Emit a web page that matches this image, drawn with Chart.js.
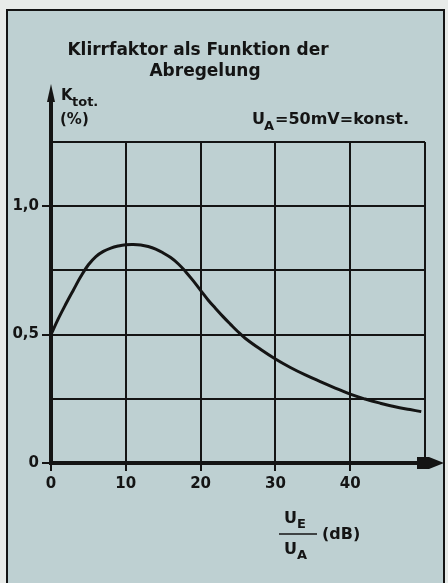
<!DOCTYPE html>
<html>
<head>
<meta charset="utf-8">
<script src="https://cdn.jsdelivr.net/npm/chart.js@4"></script>
<style>
  html, body { margin: 0; padding: 0; background: #e8ebe9; }
  canvas { display: block; }
</style>
</head>
<body>
<canvas id="klirrChart" width="448" height="583"></canvas>
<script>
// values (Klirrfaktor in %, Abregelung in dB)
const dbValues = [0, 1, 2, 3, 4, 5, 6, 7, 8, 9, 10, 11, 12, 13, 14, 15, 16, 17, 18, 19, 20, 21, 22, 23, 24, 25, 26,
    28, 30, 32, 34, 36, 38, 40, 42, 44, 46, 48, 49.5];
const kValues = [0.50, 0.563, 0.62, 0.674, 0.727, 0.772, 0.804, 0.824, 0.837, 0.845, 0.85, 0.851, 0.849, 0.843,
    0.833, 0.818, 0.80, 0.776, 0.745, 0.71, 0.672, 0.635, 0.602, 0.57, 0.54, 0.511, 0.485,
    0.443, 0.405, 0.372, 0.343, 0.317, 0.292, 0.268, 0.249, 0.233, 0.219, 0.208, 0.20];

const xTickValues = [0, 10, 20, 30, 40];
const xTickLabels = ["0", "10", "20", "30", "40"];
const yTickValues = [0, 0.5, 1.0];
const yTickLabels = ["0", "0,5", "1,0"];

const ink = "#141414";
const paper = "#bed0d2";
const fontFam = "'DejaVu Sans', sans-serif";

const decor = {
    id: "decor",
    beforeDraw(chart) {
        const c = chart.ctx;
        c.save();
        c.fillStyle = "#e8ebe9";
        c.fillRect(0, 0, chart.width, chart.height);
        c.fillStyle = paper;
        c.fillRect(7, 10, 437, 600);
        c.strokeStyle = ink;
        c.lineWidth = 2;
        c.strokeRect(7, 10, 437, 600);
        c.restore();
    },
    afterDraw(chart) {
        const c = chart.ctx;
        const a = chart.chartArea;
        const y0 = chart.scales.y.getPixelForValue(0);
        const x0 = chart.scales.x.getPixelForValue(0);
        c.save();
        c.fillStyle = ink;
        c.strokeStyle = ink;

        // y axis goes on above the grid, with arrow
        c.lineWidth = 4;
        c.beginPath();
        c.moveTo(x0, a.top);
        c.lineTo(x0, 96);
        c.stroke();
        c.beginPath();
        c.moveTo(x0, 84);
        c.lineTo(x0 - 4, 102);
        c.lineTo(x0 + 4, 102);
        c.closePath();
        c.fill();

        // x axis arrow
        c.fillRect(a.right - 8, y0 - 6, 12, 12);
        c.beginPath();
        c.moveTo(444, y0);
        c.lineTo(a.right + 4, y0 - 6);
        c.lineTo(a.right + 4, y0 + 6);
        c.closePath();
        c.fill();

        // title
        c.textAlign = "center";
        c.textBaseline = "alphabetic";
        c.font = "bold 17px " + fontFam;
        c.fillText("Klirrfaktor als Funktion der", 198, 55);
        c.fillText("Abregelung", 205, 76);

        // y axis label
        c.textAlign = "left";
        c.font = "bold 15px " + fontFam;
        c.fillText("K", 61, 100);
        c.font = "bold 13px " + fontFam;
        c.fillText("tot.", 72, 106);
        c.font = "bold 15px " + fontFam;
        c.fillText("(%)", 60, 124);

        // note
        c.font = "bold 16px " + fontFam;
        c.fillText("U", 252, 124);
        c.font = "bold 13px " + fontFam;
        c.fillText("A", 264, 130);
        c.font = "bold 16px " + fontFam;
        c.fillText("=50mV=konst.", 275, 124);

        // x axis label as fraction
        c.font = "bold 16px " + fontFam;
        c.fillText("U", 284, 523);
        c.fillText("U", 284, 554);
        c.font = "bold 13px " + fontFam;
        c.fillText("E", 297, 528);
        c.fillText("A", 297, 559);
        c.lineWidth = 1.5;
        c.beginPath();
        c.moveTo(279, 534);
        c.lineTo(317, 534);
        c.stroke();
        c.font = "bold 16px " + fontFam;
        c.fillText("(dB)", 322, 539);
        c.restore();
    }
};

Chart.defaults.font.family = fontFam;
Chart.defaults.font.weight = "bold";
Chart.defaults.color = ink;

new Chart(document.getElementById("klirrChart"), {
    type: "scatter",
    data: {
        datasets: [
            {
                label: "Klirrfaktor",
                data: dbValues.map((d, i) => ({ x: d, y: kValues[i] })),
                showLine: true,
                borderColor: ink,
                borderWidth: 3,
                pointRadius: 0,
                tension: 0.4
            }
        ]
    },
    options: {
        responsive: false,
        animation: false,
        layout: { padding: { top: 142, right: 23, left: 0, bottom: 0 } },
        plugins: {
            legend: { display: false },
            tooltip: { enabled: false }
        },
        scales: {
            x: {
                type: "linear",
                min: 0,
                max: 50,
                afterFit: s => { s.height = 120; },
                ticks: {
                    stepSize: 10,
                    padding: 4,
                    font: { size: 15, weight: "bold" },
                    callback: v => {
                        const i = xTickValues.indexOf(v);
                        return i < 0 ? "" : xTickLabels[i];
                    }
                },
                grid: {
                    color: ink,
                    lineWidth: 2,
                    tickLength: 8,
                    tickWidth: 2,
                    tickColor: ctx => xTickValues.includes(ctx.tick.value) ? ink : "rgba(0,0,0,0)"
                },
                border: { color: ink, width: 4 }
            },
            y: {
                min: 0,
                max: 1.25,
                afterFit: s => { s.width = 51; },
                ticks: {
                    stepSize: 0.25,
                    padding: 3,
                    font: { size: 15, weight: "bold" },
                    callback: v => {
                        const i = yTickValues.indexOf(v);
                        return i < 0 ? "" : yTickLabels[i];
                    }
                },
                grid: {
                    color: ink,
                    lineWidth: 2,
                    tickLength: 9,
                    tickWidth: 2,
                    tickColor: ctx => yTickValues.includes(ctx.tick.value) ? ink : "rgba(0,0,0,0)"
                },
                border: { color: ink, width: 4 }
            }
        }
    },
    plugins: [decor]
});
</script>
</body>
</html>
